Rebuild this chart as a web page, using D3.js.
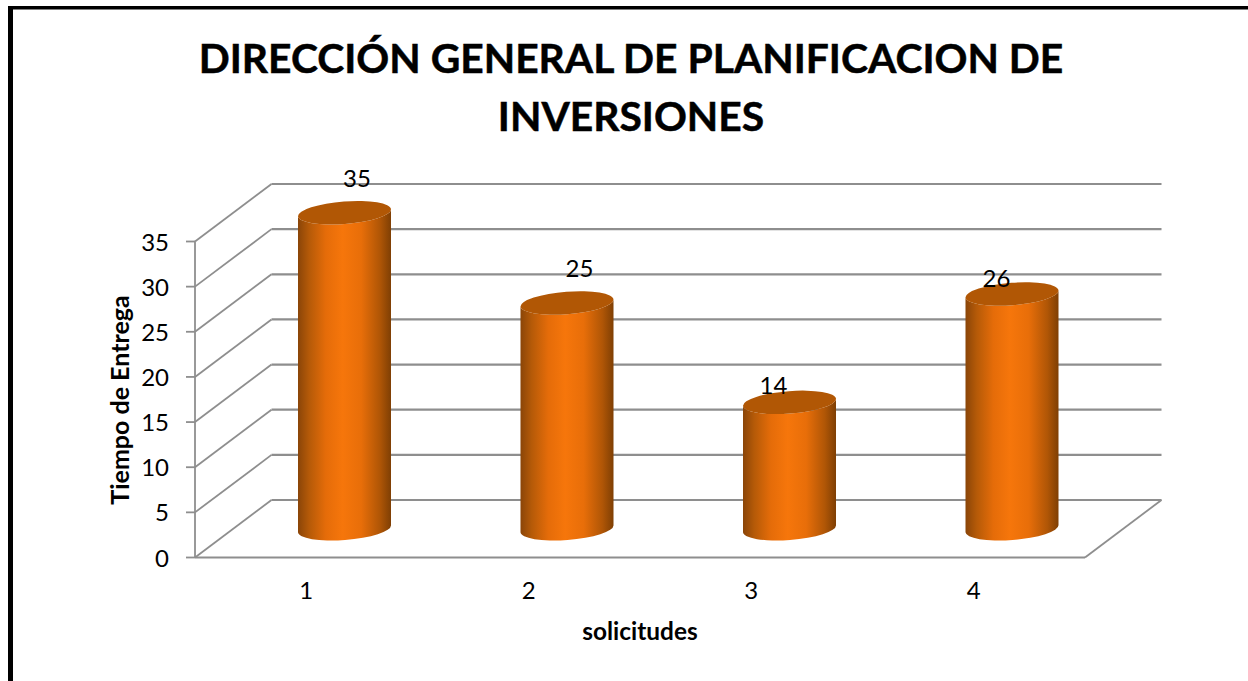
<!DOCTYPE html>
<html><head><meta charset="utf-8">
<style>html,body{margin:0;padding:0;background:#fff}svg{display:block}text{font-family:Lato,"Open Sans",sans-serif}</style>
<script src="https://cdn.jsdelivr.net/npm/d3@7/dist/d3.min.js"></script></head><body>
<script>
const categories = ["1","2","3","4"];
const values = [35,25,14,26];
const yTicks = [0,5,10,15,20,25,30,35];
const titleLines = ["DIRECCIÓN GENERAL DE PLANIFICACION DE","INVERSIONES"];
const xTitle = "solicitudes", yTitle = "Tiempo de Entrega";
const labelOffsets = [[12.5,-26],[12.5,-26],[-16,-8],[-15.5,-7]];

const W=1248,H=681, depthX=76.5, depthY=57.5;
const svg=d3.select("body").append("svg").attr("width",W).attr("height",H);
const x=d3.scaleBand().domain(categories).range([195,1085]);
const y=d3.scaleLinear().domain([0,35]).range([557.5,241.5]);
const GRID="#8e8e8e";

// frame
svg.append("rect").attr("x",8).attr("y",6).attr("width",5).attr("height",H).attr("fill","#000");
svg.append("rect").attr("x",8).attr("y",6).attr("width",W).attr("height",3.5).attr("fill","#000");

// title
svg.selectAll("text.title").data(titleLines).join("text").attr("class","title")
 .attr("x",631).attr("y",(d,i)=>73+i*58).attr("text-anchor","middle")
 .attr("font-size",40.8).attr("font-weight",700).attr("fill","#000").attr("stroke","#000").attr("stroke-width",0.5).text(d=>d);

// walls
svg.selectAll("line.back").data(yTicks).join("line").attr("class","back")
 .attr("x1",195+depthX).attr("x2",1085+depthX)
 .attr("y1",d=>y(d)-depthY).attr("y2",d=>y(d)-depthY)
 .attr("stroke",GRID).attr("stroke-width",2.2);
svg.selectAll("line.side").data(yTicks).join("line").attr("class","side")
 .attr("x1",195).attr("x2",195+depthX)
 .attr("y1",d=>y(d)).attr("y2",d=>y(d)-depthY)
 .attr("stroke",GRID).attr("stroke-width",1.8);
svg.selectAll("line.tick").data(yTicks).join("line").attr("class","tick")
 .attr("x1",186).attr("x2",195).attr("y1",d=>y(d)).attr("y2",d=>y(d))
 .attr("stroke",GRID).attr("stroke-width",1.8);
svg.append("line").attr("x1",195).attr("x2",195).attr("y1",y(35)).attr("y2",y(0)).attr("stroke",GRID).attr("stroke-width",1.8);
svg.append("line").attr("x1",195).attr("x2",1085).attr("y1",y(0)).attr("y2",y(0)).attr("stroke",GRID).attr("stroke-width",2.2);
svg.append("line").attr("x1",1085).attr("x2",1085+depthX).attr("y1",y(0)).attr("y2",y(0)-depthY).attr("stroke",GRID).attr("stroke-width",1.8);

// gradient
const defs=svg.append("defs");
const g=defs.append("linearGradient").attr("id","cyl").attr("x1","0").attr("x2","1").attr("y1","0").attr("y2","0");
[[0,"#8a4508"],[0.12,"#b55a08"],[0.3,"#e56c09"],[0.48,"#f6760b"],[0.68,"#e86e09"],[0.88,"#b05606"],[1,"#7f3f04"]]
 .forEach(s=>g.append("stop").attr("offset",s[0]).attr("stop-color",s[1]));

// bars
const rx=46.5, ry=11.2, rot=-4.4, tilt=3.5;
const cx=c=>x(c)+x.bandwidth()/2+depthX/2;
const cy=v=>y(v)-depthY/2;
const bars=svg.selectAll("g.bar").data(categories.map((c,i)=>({c,v:values[i]}))).join("g").attr("class","bar");
bars.append("path").attr("fill","url(#cyl)").attr("d",d=>{
  const X=cx(d.c), T=cy(d.v), B=cy(0);
  return `M${X-rx},${T+tilt}L${X-rx},${B+tilt}A${rx},${ry} ${rot} 0 0 ${X+rx},${B-tilt}L${X+rx},${T-tilt}A${rx},${ry} ${rot} 0 1 ${X-rx},${T+tilt}Z`;
});
bars.append("path").attr("fill","#b15705").attr("d",d=>{
  const X=cx(d.c), T=cy(d.v);
  return `M${X-rx},${T+tilt}A${rx},${ry} ${rot} 1 1 ${X+rx},${T-tilt}A${rx},${ry} ${rot} 1 1 ${X-rx},${T+tilt}Z`;
});
bars.append("text").attr("x",(d,i)=>cx(d.c)+labelOffsets[i][0]).attr("y",(d,i)=>cy(d.v)+labelOffsets[i][1])
 .attr("text-anchor","middle").attr("font-size",24).attr("fill","#000").text(d=>d.v);

// axis labels
svg.selectAll("text.yl").data(yTicks).join("text").attr("class","yl")
 .attr("x",169).attr("y",d=>y(d)+9).attr("text-anchor","end").attr("font-size",24).attr("fill","#000").text(d=>d);
svg.selectAll("text.xl").data(categories).join("text").attr("class","xl")
 .attr("x",c=>x(c)+x.bandwidth()/2).attr("y",599).attr("text-anchor","middle").attr("font-size",24).attr("fill","#000").text(d=>d);
svg.append("text").attr("x",640).attr("y",640).attr("text-anchor","middle").attr("font-size",24.4).attr("font-weight",700).text(xTitle);
svg.append("text").attr("transform","translate(129,400) rotate(-90)").attr("text-anchor","middle").attr("font-size",25).attr("font-weight",700).text(yTitle);
</script></body></html>
